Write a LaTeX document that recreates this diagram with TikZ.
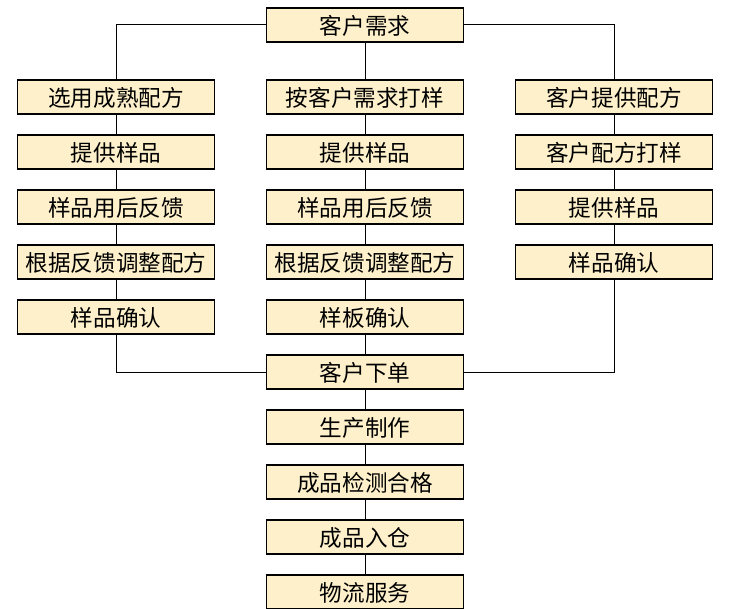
\documentclass[tikz,border=0pt]{standalone}
\usepackage{fontspec}
\setmainfont{Noto Sans CJK SC}
\usetikzlibrary{positioning}
\definecolor{boxfill}{RGB}{253,240,202}

\begin{document}
\begin{tikzpicture}[
    node distance=10.5pt and 26pt,
    box/.style={
        rectangle, draw=black, line width=0.6pt, fill=boxfill,
        align=center, minimum width=98.5pt, minimum height=17pt,
        inner sep=0pt, outer sep=0pt, text height=9.6pt, text depth=0.5pt,
        font=\fontsize{11.3pt}{13pt}\selectfont
    },
    link/.style={line width=0.5pt}
]
\useasboundingbox (0,0) rectangle (366pt,-304.5pt);
\node[box] (need) at (182.5pt,-12.5pt) {客户需求};
% middle column
\node[box, below=19pt of need] (m1) {按客户需求打样};
\node[box, below=of m1] (m2) {提供样品};
\node[box, below=of m2] (m3) {样品用后反馈};
\node[box, below=of m3] (m4) {根据反馈调整配方};
\node[box, below=of m4] (m5) {样板确认};
\node[box, below=of m5] (order) {客户下单};
\node[box, below=of order] (make) {生产制作};
\node[box, below=of make] (check) {成品检测合格};
\node[box, below=of check] (store) {成品入仓};
\node[box, below=of store] (ship) {物流服务};
% left column
\node[box, left=of m1] (l1) {选用成熟配方};
\node[box, below=of l1] (l2) {提供样品};
\node[box, below=of l2] (l3) {样品用后反馈};
\node[box, below=of l3] (l4) {根据反馈调整配方};
\node[box, below=of l4] (l5) {样品确认};
% right column
\node[box, right=of m1] (r1) {客户提供配方};
\node[box, below=of r1] (r2) {客户配方打样};
\node[box, below=of r2] (r3) {提供样品};
\node[box, below=of r3] (r4) {样品确认};

\draw[link] (need.west) -| (l1.north);
\draw[link] (need.east) -| (r1.north);
\draw[link] (need) -- (m1);
\foreach \a/\b in {m1/m2,m2/m3,m3/m4,m4/m5,m5/order,order/make,make/check,check/store,store/ship,
                   l1/l2,l2/l3,l3/l4,l4/l5,r1/r2,r2/r3,r3/r4}
    \draw[link] (\a) -- (\b);
\draw[link] (l5.south) |- (order.west);
\draw[link] (r4.south) |- (order.east);
\end{tikzpicture}
\end{document}
